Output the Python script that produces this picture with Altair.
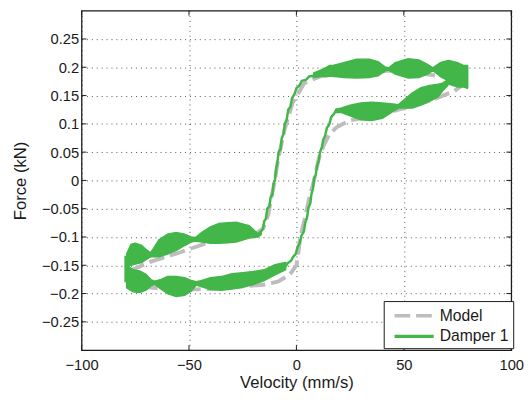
import altair as alt
import pandas as pd

GREEN = "#42b649"
GREY = "#bdbdbd"
FONT = "Liberation Sans"
W, H = 438, 346

X_TICKS = [-100, -50, 0, 50, 100]
Y_TICKS = [-0.25, -0.2, -0.15, -0.1, -0.05, 0, 0.05, 0.1, 0.15, 0.2, 0.25]

# Model loop (grey dashed), traversal order
MODEL_X = [79.5, 73.5, 63, 53.9, 42.9, 32.4, 24.7, 18.7, 15.1, 12.8, 10.5, 8.2, 6.4, 3.7,
           1.8, 1.0, 0, -3.2, -8.7, -14.6, -25.6, -36, -50, -63.5, -72.6, -78.5, -79,
           -78.5, -68, -54, -42, -30, -19, -15.5, -13, -12, -10, -8.7, -7.8, -5.5, -1.8,
           3.7, 11, 17.4, 26.5, 35.6, 43, 49, 58, 67.6, 76.7, 79.5]
MODEL_Y = [0.175, 0.158, 0.142, 0.132, 0.12, 0.111, 0.106, 0.094, 0.08, 0.0625, 0.04, 0.0, -0.024, -0.071,
           -0.10, -0.125, -0.15, -0.167, -0.179, -0.184, -0.1875, -0.191, -0.193, -0.191, -0.1875, -0.179, -0.17,
           -0.161, -0.144, -0.127, -0.111, -0.102, -0.094, -0.085, -0.059, -0.036, 0.0, 0.033, 0.05, 0.09, 0.137,
           0.172, 0.184, 0.186, 0.189, 0.191, 0.194, 0.193, 0.189, 0.184, 0.177, 0.175]

# Damper 1: oscillating bands (envelope lo/hi)
UR_X = [8, 12, 15.5, 17, 22, 28, 34, 38, 41.5, 43, 46, 52, 57, 61, 63.5, 65, 67, 69.7, 71, 75, 78, 79.5]
UR_LO = [0.182, 0.184, 0.184, 0.184, 0.182, 0.181, 0.182, 0.185, 0.194, 0.195, 0.188, 0.181, 0.182, 0.188,
         0.194, 0.19, 0.184, 0.178, 0.17, 0.165, 0.165, 0.163]
UR_HI = [0.19, 0.196, 0.203, 0.203, 0.208, 0.214, 0.214, 0.21, 0.2, 0.199, 0.208, 0.215, 0.213, 0.205,
         0.199, 0.203, 0.208, 0.211, 0.212, 0.208, 0.203, 0.203]

LR_X = [18.7, 21, 25, 30, 35, 40, 45, 47.5, 50, 54, 58, 62, 66, 68, 70.5]
LR_LO = [0.12, 0.12, 0.114, 0.107, 0.106, 0.11, 0.122, 0.128, 0.128, 0.128, 0.133, 0.14, 0.148, 0.158, 0.168]
LR_HI = [0.126, 0.128, 0.133, 0.137, 0.138, 0.137, 0.135, 0.134, 0.142, 0.155, 0.164, 0.168, 0.17, 0.172, 0.178]

UL_X = [-79, -77, -75, -72, -70, -68, -66.5, -64, -60, -56, -52, -49, -47, -44, -40, -36, -32, -28, -22, -18, -16.4]
UL_LO = [-0.152, -0.15, -0.148, -0.145, -0.14, -0.135, -0.135, -0.135, -0.13, -0.124, -0.115, -0.109, -0.107,
         -0.109, -0.111, -0.111, -0.11, -0.109, -0.102, -0.1, -0.096]
UL_HI = [-0.13, -0.113, -0.111, -0.115, -0.122, -0.128, -0.12, -0.105, -0.095, -0.092, -0.095, -0.1, -0.101,
         -0.092, -0.082, -0.076, -0.075, -0.074, -0.08, -0.094, -0.09]

LL_X = [-79, -76, -73, -70, -67.5, -66, -63, -60, -56, -52, -49, -46.6, -44, -40, -35, -30, -25, -20, -15, -10, -5]
LL_LO = [-0.19, -0.197, -0.198, -0.194, -0.186, -0.184, -0.192, -0.2, -0.205, -0.203, -0.196, -0.185, -0.188,
         -0.193, -0.194, -0.192, -0.189, -0.184, -0.177, -0.167, -0.158]
LL_HI = [-0.15, -0.158, -0.16, -0.166, -0.176, -0.178, -0.175, -0.17, -0.17, -0.172, -0.177, -0.179, -0.177,
         -0.172, -0.17, -0.165, -0.163, -0.161, -0.158, -0.149, -0.145]

# Damper 1: steep S-curve segments and loop ends
LS_X = [-17.5, -16.4, -15.5, -15, -14.2, -13.6, -12.6, -12, -11.2, -10.6, -10, -9.4, -8.9, -8.3, -7.4, -6.8,
        -6, -5.4, -4.5, -3.8, -2.8, -2, -0.9, 0, 1.5, 2.5, 4.5, 6, 8.5, 10, 12.5, 14.2]
LS_Y = [-0.095, -0.09, -0.085, -0.072, -0.068, -0.05, -0.046, -0.03, -0.025, -0.005, 0.0, 0.022, 0.03, 0.05,
        0.055, 0.075, 0.082, 0.1, 0.108, 0.125, 0.13, 0.146, 0.152, 0.163, 0.168, 0.176, 0.178, 0.184, 0.185,
        0.19, 0.19, 0.196]
RS_X = [21, 18.5, 17.6, 16.2, 15.2, 14.2, 13.3, 12.5, 11.8, 11, 10.4, 9.6, 9, 8.2, 7.7, 7, 6.5, 5.6, 5, 4.1,
        3.5, 2.3, 1.6, 0.5, -0.3, -1.5, -2.5, -4, -5]
RS_Y = [0.125, 0.125, 0.118, 0.112, 0.098, 0.093, 0.078, 0.072, 0.058, 0.05, 0.035, 0.025, 0.01, 0.003,
        -0.015, -0.024, -0.04, -0.048, -0.065, -0.075, -0.09, -0.098, -0.11, -0.118, -0.13, -0.135, -0.142,
        -0.146, -0.152]
LE_X = [-79.5, -79.5]
LE_Y = [-0.18, -0.133]
RE_X = [79.5, 79.5]
RE_Y = [0.163, 0.203]

model_df = pd.DataFrame({"x": MODEL_X, "y": MODEL_Y, "i": range(len(MODEL_X)), "seg": "m",
                         "series": "Model"})

lines = []
for name, xs, ys in [("ls", LS_X, LS_Y), ("rs", RS_X, RS_Y), ("le", LE_X, LE_Y), ("re", RE_X, RE_Y)]:
    for k, (a, b) in enumerate(zip(xs, ys)):
        lines.append({"x": a, "y": b, "i": k, "seg": name, "series": "Damper 1"})
damper_df = pd.DataFrame(lines)

bands = []
for name, xs, lo, hi in [("ur", UR_X, UR_LO, UR_HI), ("lr", LR_X, LR_LO, LR_HI),
                         ("ul", UL_X, UL_LO, UL_HI), ("ll", LL_X, LL_LO, LL_HI)]:
    for a, l, h in zip(xs, lo, hi):
        bands.append({"x": a, "y": l, "y2": h, "band": name})
band_df = pd.DataFrame(bands)

xscale = alt.Scale(domain=[-100, 100], nice=False, zero=False)
yscale = alt.Scale(domain=[-0.3, 0.3], nice=False, zero=False)

axis_common = dict(grid=True, gridColor="#333333", gridDash=[1, 4], gridOpacity=0.85, gridWidth=1,
                   ticks=False, domain=False, labelOverlap=False, labelFlush=False, tickCount=20,
                   labelFont=FONT, labelFontSize=15, labelColor="#1a1a1a",
                   titleFont=FONT, titleFontSize=17, titleFontWeight="normal", titleColor="#1a1a1a")

X = alt.X("x:Q", scale=xscale, title="Velocity (mm/s)",
          axis=alt.Axis(values=X_TICKS, labelPadding=8, titlePadding=2, **axis_common))
Y = alt.Y("y:Q", scale=yscale, title="Force (kN)",
          axis=alt.Axis(values=Y_TICKS, format="~g", labelPadding=3, titlePadding=12, **axis_common))

color = alt.Color("series:N", scale=alt.Scale(domain=["Model", "Damper 1"], range=[GREY, GREEN]),
                  legend=alt.Legend(title=None, orient="none", legendX=308, legendY=296,
                                    symbolType="M-0.444,0H4", symbolSize=324, symbolStrokeWidth=3.5,
                                    labelFont=FONT, labelFontSize=16, labelColor="#1a1a1a", labelOffset=31,
                                    rowPadding=2, padding=4, strokeColor="#1a1a1a", fillColor="white",
                                    cornerRadius=0))
dash = alt.StrokeDash("series:N", scale=alt.Scale(domain=["Model", "Damper 1"], range=[[16, 6], [1, 0]]),
                      legend=None)

model = alt.Chart(model_df).mark_line(strokeWidth=4).encode(
    x=X, y=Y, order="i:Q", detail="seg:N", color=color, strokeDash=dash)

band = alt.Chart(band_df).mark_area(color=GREEN, opacity=1, stroke=GREEN, strokeWidth=1.5).encode(
    x=alt.X("x:Q", scale=xscale), y=alt.Y("y:Q", scale=yscale), y2="y2:Q", detail="band:N")

damper = alt.Chart(damper_df).mark_line(strokeWidth=2.5).encode(
    x=alt.X("x:Q", scale=xscale), y=alt.Y("y:Q", scale=yscale), order="i:Q", detail="seg:N",
    color=color, strokeDash=dash)

# inward tick marks on all four sides of the frame
xt = pd.DataFrame({"x": X_TICKS})
yt = pd.DataFrame({"y": Y_TICKS})
tick_style = dict(color="#1a1a1a", strokeWidth=1)
xt_bot = alt.Chart(xt).mark_rule(**tick_style).encode(x=alt.X("x:Q", scale=xscale), y=alt.value(H), y2=alt.value(H - 5))
xt_top = alt.Chart(xt).mark_rule(**tick_style).encode(x=alt.X("x:Q", scale=xscale), y=alt.value(0), y2=alt.value(5))
yt_l = alt.Chart(yt).mark_rule(**tick_style).encode(y=alt.Y("y:Q", scale=yscale), x=alt.value(0), x2=alt.value(5))
yt_r = alt.Chart(yt).mark_rule(**tick_style).encode(y=alt.Y("y:Q", scale=yscale), x=alt.value(W), x2=alt.value(W - 5))

chart = alt.layer(model, band, damper, xt_bot, xt_top, yt_l, yt_r).properties(
    width=W, height=H, padding={"left": 4, "top": -2, "right": 0, "bottom": 2}
).configure_view(stroke="#1a1a1a", strokeWidth=1.3).configure_axisY(labelOverlap=False)

chart.save("out.html", embed_options={"renderer": "svg", "actions": False})
